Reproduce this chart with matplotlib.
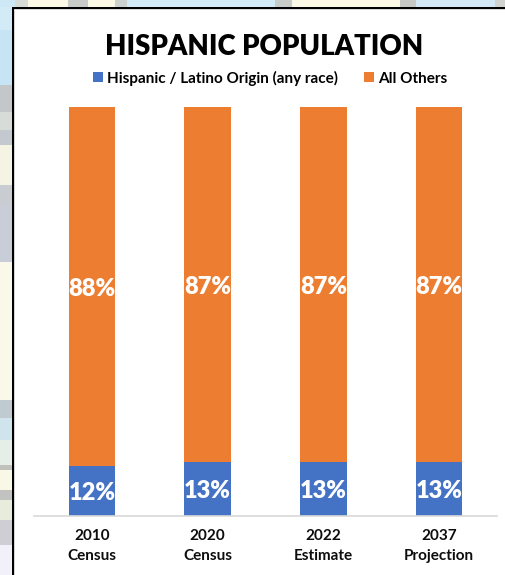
import matplotlib
matplotlib.use("Agg")
import matplotlib.pyplot as plt
from matplotlib.patches import Rectangle

categories = ["2010\nCensus", "2020\nCensus", "2022\nEstimate", "2037\nProjection"]
hispanic = [12, 13, 13, 13]
others = [88, 87, 87, 87]

BLUE = "#4472C4"
ORANGE = "#ED7D31"
W, H = 506, 575

plt.rcParams["font.family"] = ["Lato", "DejaVu Sans"]

fig = plt.figure(figsize=[W / 100, H / 100], dpi=100)
fig.patch.set_facecolor("white")


def px_rect(x0, y0, x1, y1, color):
    # rectangle given in pixels measured from the top left corner
    fig.add_artist(Rectangle((x0 / W, 1 - y1 / H), (x1 - x0) / W, (y1 - y0) / H,
                             transform=fig.transFigure, facecolor=color,
                             edgecolor="none", linewidth=0))


# backdrop showing around the panel
left_bands = [(0, 30, "#d3ebf7"), (30, 85, "#c6e4f3"), (85, 112, "#c3c7c9"), (112, 130, "#d8dcd8"),
              (130, 145, "#c4c8cf"), (145, 185, "#f5f4e4"), (185, 205, "#c9ccd0"), (205, 262, "#c9cdd8"),
              (262, 400, "#faf8e8"), (400, 418, "#bfcbd0"), (418, 440, "#cfe4ec"), (440, 465, "#e6eee8"),
              (465, 470, "#c0c0bc"), (470, 490, "#f9f7e6"), (490, 500, "#c2c2c0"), (500, 520, "#e8ecdc"),
              (520, 545, "#cfced4"), (545, 575, "#f2f0f8")]
top_bands = [(0, 15, "#cfe8f5"), (15, 28, "#d8dcd8"), (28, 68, "#fbf9e6"), (68, 88, "#c8cac8"),
             (88, 115, "#fbf9e6"), (115, 127, "#ccd2d0"), (127, 275, "#d3ebf7"), (275, 292, "#c8ccc8"),
             (292, 400, "#fbf8e6"), (400, 416, "#c6c8c6"), (416, 495, "#d3e8f4"), (495, 506, "#d0d4d0")]
for y0, y1, c in left_bands:
    px_rect(0, y0, 12, y1, c)
for x0, x1, c in top_bands:
    px_rect(x0, 0, x1, 7, c)

# panel frame, only on the top and left sides
px_rect(12, 7, W, 9, "black")
px_rect(12, 7, 14, H, "black")
px_rect(14, 9, W, 10, "#d6d6d6")
px_rect(14, 9, 15, H, "#d6d6d6")

ax = fig.add_axes([34 / W, 1 - 515.5 / H, (497 - 34) / W, (515.5 - 107) / H])
ax.patch.set_alpha(0)

x = range(len(categories))
b1 = ax.bar(x, hispanic, width=0.4, color=BLUE, label="Hispanic / Latino Origin (any race)")
b2 = ax.bar(x, others, width=0.4, bottom=hispanic, color=ORANGE, label="All Others")

for bars, vals in [(b1, hispanic), (b2, others)]:
    texts = ax.bar_label(bars, labels=[f"{v}%" for v in vals], label_type="center",
                         color="white", fontsize=17, fontweight="heavy")
    for t in texts:
        t.set_verticalalignment("center_baseline")

ax.set_xlim(-0.5, 3.5)
ax.set_ylim(0, 100)
ax.set_yticks([])
ax.set_xticks(list(x))
ax.set_xticklabels(categories, fontsize=11, fontweight="bold", linespacing=1.55, color="#0d0d0d")
ax.tick_params(axis="x", length=0, pad=10)
for s in ["top", "left", "right"]:
    ax.spines[s].set_visible(False)
ax.spines["bottom"].set_color("#d9d9d9")
ax.spines["bottom"].set_linewidth(1.2)

fig.text(264.5 / W, 1 - 55 / H, "HISPANIC POPULATION", ha="center", va="baseline",
         fontsize=19.8, fontweight="heavy", color="black")
fig.legend(handles=[b1, b2], loc="center", bbox_to_anchor=(270.5 / W, 1 - 78 / H), ncol=2,
           frameon=False, prop={"size": 11, "weight": "bold"}, handlelength=0.65, handleheight=0.65,
           handletextpad=0.26, columnspacing=1.7, borderpad=0)

fig.savefig("out.png", dpi=100)
